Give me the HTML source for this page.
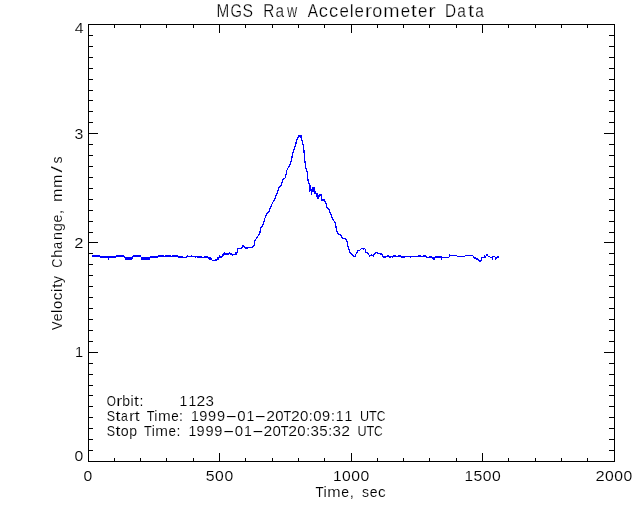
<!DOCTYPE html>
<html><head><meta charset="utf-8"><title>MGS Raw Accelerometer Data</title>
<style>
html,body{margin:0;padding:0;background:#fff;}
body{width:640px;height:512px;overflow:hidden;}
svg{display:block;}
text{font-family:"Liberation Sans",sans-serif;fill:#000;white-space:pre;stroke:#fff;stroke-width:0.12px;}
text.ti{stroke-width:0.25px;}
</style></head><body>
<svg width="640" height="512" viewBox="0 0 640 512">
<rect width="640" height="512" fill="#fff"/>
<g fill="#000" shape-rendering="crispEdges">
<rect x="88" y="24" width="527" height="1"/>
<rect x="88" y="461" width="527" height="1"/>
<rect x="88" y="24" width="1" height="438"/>
<rect x="614" y="24" width="1" height="438"/>
<rect x="114" y="458" width="1" height="4"/>
<rect x="114" y="24" width="1" height="4"/>
<rect x="140" y="458" width="1" height="4"/>
<rect x="140" y="24" width="1" height="4"/>
<rect x="166" y="458" width="1" height="4"/>
<rect x="166" y="24" width="1" height="4"/>
<rect x="193" y="458" width="1" height="4"/>
<rect x="193" y="24" width="1" height="4"/>
<rect x="219" y="453" width="1" height="9"/>
<rect x="219" y="24" width="1" height="9"/>
<rect x="245" y="458" width="1" height="4"/>
<rect x="245" y="24" width="1" height="4"/>
<rect x="272" y="458" width="1" height="4"/>
<rect x="272" y="24" width="1" height="4"/>
<rect x="298" y="458" width="1" height="4"/>
<rect x="298" y="24" width="1" height="4"/>
<rect x="324" y="458" width="1" height="4"/>
<rect x="324" y="24" width="1" height="4"/>
<rect x="351" y="453" width="1" height="9"/>
<rect x="351" y="24" width="1" height="9"/>
<rect x="377" y="458" width="1" height="4"/>
<rect x="377" y="24" width="1" height="4"/>
<rect x="403" y="458" width="1" height="4"/>
<rect x="403" y="24" width="1" height="4"/>
<rect x="429" y="458" width="1" height="4"/>
<rect x="429" y="24" width="1" height="4"/>
<rect x="456" y="458" width="1" height="4"/>
<rect x="456" y="24" width="1" height="4"/>
<rect x="482" y="453" width="1" height="9"/>
<rect x="482" y="24" width="1" height="9"/>
<rect x="508" y="458" width="1" height="4"/>
<rect x="508" y="24" width="1" height="4"/>
<rect x="535" y="458" width="1" height="4"/>
<rect x="535" y="24" width="1" height="4"/>
<rect x="561" y="458" width="1" height="4"/>
<rect x="561" y="24" width="1" height="4"/>
<rect x="587" y="458" width="1" height="4"/>
<rect x="587" y="24" width="1" height="4"/>
<rect x="88" y="450" width="5" height="1"/>
<rect x="609" y="450" width="6" height="1"/>
<rect x="88" y="439" width="5" height="1"/>
<rect x="609" y="439" width="6" height="1"/>
<rect x="88" y="428" width="5" height="1"/>
<rect x="609" y="428" width="6" height="1"/>
<rect x="88" y="417" width="5" height="1"/>
<rect x="609" y="417" width="6" height="1"/>
<rect x="88" y="406" width="5" height="1"/>
<rect x="609" y="406" width="6" height="1"/>
<rect x="88" y="395" width="5" height="1"/>
<rect x="609" y="395" width="6" height="1"/>
<rect x="88" y="385" width="5" height="1"/>
<rect x="609" y="385" width="6" height="1"/>
<rect x="88" y="374" width="5" height="1"/>
<rect x="609" y="374" width="6" height="1"/>
<rect x="88" y="363" width="5" height="1"/>
<rect x="609" y="363" width="6" height="1"/>
<rect x="88" y="352" width="10" height="1"/>
<rect x="604" y="352" width="11" height="1"/>
<rect x="88" y="341" width="5" height="1"/>
<rect x="609" y="341" width="6" height="1"/>
<rect x="88" y="330" width="5" height="1"/>
<rect x="609" y="330" width="6" height="1"/>
<rect x="88" y="319" width="5" height="1"/>
<rect x="609" y="319" width="6" height="1"/>
<rect x="88" y="308" width="5" height="1"/>
<rect x="609" y="308" width="6" height="1"/>
<rect x="88" y="297" width="5" height="1"/>
<rect x="609" y="297" width="6" height="1"/>
<rect x="88" y="286" width="5" height="1"/>
<rect x="609" y="286" width="6" height="1"/>
<rect x="88" y="275" width="5" height="1"/>
<rect x="609" y="275" width="6" height="1"/>
<rect x="88" y="264" width="5" height="1"/>
<rect x="609" y="264" width="6" height="1"/>
<rect x="88" y="253" width="5" height="1"/>
<rect x="609" y="253" width="6" height="1"/>
<rect x="88" y="242" width="10" height="1"/>
<rect x="604" y="242" width="11" height="1"/>
<rect x="88" y="232" width="5" height="1"/>
<rect x="609" y="232" width="6" height="1"/>
<rect x="88" y="221" width="5" height="1"/>
<rect x="609" y="221" width="6" height="1"/>
<rect x="88" y="210" width="5" height="1"/>
<rect x="609" y="210" width="6" height="1"/>
<rect x="88" y="199" width="5" height="1"/>
<rect x="609" y="199" width="6" height="1"/>
<rect x="88" y="188" width="5" height="1"/>
<rect x="609" y="188" width="6" height="1"/>
<rect x="88" y="177" width="5" height="1"/>
<rect x="609" y="177" width="6" height="1"/>
<rect x="88" y="166" width="5" height="1"/>
<rect x="609" y="166" width="6" height="1"/>
<rect x="88" y="155" width="5" height="1"/>
<rect x="609" y="155" width="6" height="1"/>
<rect x="88" y="144" width="5" height="1"/>
<rect x="609" y="144" width="6" height="1"/>
<rect x="88" y="133" width="10" height="1"/>
<rect x="604" y="133" width="11" height="1"/>
<rect x="88" y="122" width="5" height="1"/>
<rect x="609" y="122" width="6" height="1"/>
<rect x="88" y="111" width="5" height="1"/>
<rect x="609" y="111" width="6" height="1"/>
<rect x="88" y="100" width="5" height="1"/>
<rect x="609" y="100" width="6" height="1"/>
<rect x="88" y="90" width="5" height="1"/>
<rect x="609" y="90" width="6" height="1"/>
<rect x="88" y="79" width="5" height="1"/>
<rect x="609" y="79" width="6" height="1"/>
<rect x="88" y="68" width="5" height="1"/>
<rect x="609" y="68" width="6" height="1"/>
<rect x="88" y="57" width="5" height="1"/>
<rect x="609" y="57" width="6" height="1"/>
<rect x="88" y="46" width="5" height="1"/>
<rect x="609" y="46" width="6" height="1"/>
<rect x="88" y="35" width="5" height="1"/>
<rect x="609" y="35" width="6" height="1"/>
</g>
<g fill="#0000ff" shape-rendering="crispEdges"><rect x="92" y="255" width="8" height="2"/><rect x="100" y="256" width="8" height="2"/><rect x="108" y="256" width="1" height="4"/><rect x="109" y="256" width="7" height="2"/><rect x="116" y="255" width="8" height="2"/><rect x="124" y="256" width="1" height="2"/><rect x="125" y="257" width="7" height="3"/><rect x="132" y="256" width="1" height="3"/><rect x="133" y="255" width="8" height="2"/><rect x="141" y="257" width="9" height="3"/><rect x="150" y="256" width="8" height="2"/><rect x="158" y="255" width="6" height="2"/><rect x="164" y="256" width="1" height="1"/><rect x="165" y="255" width="6" height="2"/><rect x="171" y="256" width="1" height="1"/><rect x="172" y="255" width="6" height="2"/><rect x="178" y="256" width="5" height="2"/><rect x="183" y="257" width="3" height="1"/><rect x="186" y="256" width="1" height="2"/><rect x="187" y="255" width="1" height="2"/><rect x="188" y="256" width="3" height="1"/><rect x="191" y="255" width="1" height="2"/><rect x="192" y="256" width="3" height="1"/><rect x="195" y="256" width="1" height="2"/><rect x="196" y="256" width="1" height="1"/><rect x="197" y="256" width="5" height="2"/><rect x="202" y="257" width="2" height="1"/><rect x="204" y="256" width="4" height="2"/><rect x="208" y="257" width="1" height="2"/><rect x="209" y="257" width="2" height="3"/><rect x="211" y="258" width="1" height="2"/><rect x="212" y="260" width="3" height="1"/><rect x="215" y="259" width="2" height="2"/><rect x="217" y="257" width="2" height="3"/><rect x="219" y="255" width="1" height="3"/><rect x="220" y="256" width="2" height="2"/><rect x="222" y="254" width="1" height="3"/><rect x="223" y="253" width="1" height="3"/><rect x="224" y="252" width="1" height="3"/><rect x="225" y="253" width="4" height="2"/><rect x="229" y="252" width="1" height="2"/><rect x="230" y="253" width="2" height="2"/><rect x="232" y="254" width="1" height="2"/><rect x="233" y="254" width="2" height="1"/><rect x="235" y="252" width="2" height="3"/><rect x="237" y="248" width="1" height="5"/><rect x="238" y="248" width="3" height="1"/><rect x="241" y="247" width="1" height="2"/><rect x="242" y="245" width="1" height="3"/><rect x="243" y="245" width="1" height="2"/><rect x="380" y="253" width="2" height="2"/><rect x="382" y="254" width="1" height="3"/><rect x="383" y="256" width="3" height="2"/><rect x="386" y="256" width="1" height="1"/><rect x="387" y="255" width="2" height="2"/><rect x="389" y="256" width="2" height="2"/><rect x="391" y="256" width="1" height="1"/><rect x="392" y="256" width="1" height="2"/><rect x="393" y="255" width="3" height="2"/><rect x="396" y="256" width="2" height="1"/><rect x="398" y="255" width="3" height="2"/><rect x="401" y="256" width="4" height="2"/><rect x="405" y="256" width="5" height="1"/><rect x="410" y="256" width="1" height="2"/><rect x="411" y="256" width="7" height="1"/><rect x="418" y="255" width="3" height="2"/><rect x="421" y="256" width="2" height="1"/><rect x="423" y="255" width="3" height="2"/><rect x="426" y="256" width="1" height="2"/><rect x="427" y="257" width="2" height="1"/><rect x="429" y="256" width="3" height="2"/><rect x="432" y="257" width="1" height="2"/><rect x="433" y="257" width="2" height="3"/><rect x="435" y="256" width="6" height="2"/><rect x="441" y="256" width="1" height="4"/><rect x="442" y="257" width="7" height="1"/><rect x="449" y="254" width="1" height="3"/><rect x="450" y="255" width="7" height="1"/><rect x="457" y="256" width="8" height="1"/><rect x="465" y="255" width="8" height="1"/><rect x="473" y="256" width="1" height="2"/><rect x="474" y="257" width="2" height="2"/><rect x="476" y="258" width="2" height="2"/><rect x="478" y="259" width="1" height="2"/><rect x="479" y="260" width="2" height="2"/><rect x="481" y="257" width="1" height="4"/><rect x="482" y="257" width="2" height="1"/><rect x="484" y="255" width="1" height="3"/><rect x="485" y="256" width="1" height="2"/><rect x="486" y="254" width="2" height="2"/><rect x="488" y="256" width="2" height="1"/><rect x="490" y="257" width="2" height="1"/><rect x="492" y="256" width="1" height="4"/><rect x="493" y="256" width="2" height="1"/><rect x="495" y="257" width="1" height="3"/><rect x="496" y="257" width="1" height="2"/><rect x="497" y="256" width="2" height="2"/><rect x="309" y="184" width="1" height="8"/><rect x="310" y="185" width="1" height="5"/><rect x="311" y="190" width="1" height="5"/><rect x="312" y="187" width="3" height="5"/><rect x="314" y="191" width="2" height="3"/><rect x="316" y="193" width="2" height="4"/><rect x="317" y="195" width="2" height="4"/><rect x="319" y="194" width="3" height="1"/><rect x="321" y="195" width="1" height="6"/><rect x="322" y="199" width="3" height="2"/><rect x="299" y="135" width="3" height="2"/><rect x="300" y="137" width="2" height="1"/></g>
<polyline shape-rendering="crispEdges" fill="none" stroke="#0000ff" stroke-width="1.25" stroke-linejoin="round" stroke-linecap="butt" points="243.6,245.6 244.5,246.8 245,247.9 248,247.9 252,247.25 254,246 254.5,241.6 256,239 258.5,235.4 260,232.25 260.5,228 262.5,226 264,221.6 265,218 266.5,214 269,211.6 270.5,207.25 272.5,203 274,200.4 276.4,195 278.75,188.1 281.25,185 283.1,179.4 285.6,177.5 286.5,171.25 287.5,168.75 290.6,163.75 291.9,157.5 293.1,152.5 294.75,147.5 296.5,141.25 298.1,136.9 299.4,135.25 301.5,135.25 301.9,140 303.1,145 304,151.25 304.75,160 305.6,167.5 307.25,172.5 307.75,178 308.1,181 309.6,184.75 309.75,191.6 310.6,186 311.5,194.75 312.5,187.9 314.4,188.5 315,192.25 316.9,194 318.5,198.5 319.4,194.75 321,194.75 321.9,199.75 324.4,200.75 326,202.9 326.5,206.6 329,209.75 330.6,213.5 332.5,219 334,221 335.6,223.5 336.25,228.5 337.75,233.5 340.6,234.75 342.5,238.5 345.6,238.5 346.5,240.3 347.4,243.1 347.6,245.6 348.5,247.8 349.3,250.3 349.9,252.2 351.5,253.75 353.1,255.9 355.25,256.4 355.6,254.7 356.8,252.8 357.75,250.6 359.6,250.3 361.2,248.9 362.75,248.75 363.7,249.25 364.6,248.4 365.6,249.7 365.75,252.2 367.1,253 368.4,253.4 369,255 369.6,256.4 370.6,255.3 371.5,254.7 372.4,255.6 373.4,256.4 374.3,254.1 375.25,253.25 376.8,252.5 378.4,253.6 380.5,253.9"/>
<g>
<text class="ti" y="17" font-size="17.5"><tspan x="216.62" textLength="12.74" lengthAdjust="spacingAndGlyphs">M</tspan><tspan x="230.41" textLength="11.50" lengthAdjust="spacingAndGlyphs">G</tspan><tspan x="242.55" textLength="10.52" lengthAdjust="spacingAndGlyphs">S</tspan> <tspan x="263.36" textLength="11.04" lengthAdjust="spacingAndGlyphs">R</tspan><tspan x="275.50" textLength="8.58" lengthAdjust="spacingAndGlyphs">a</tspan><tspan x="287.12" textLength="10.18" lengthAdjust="spacingAndGlyphs">w</tspan> <tspan x="307.86" textLength="10.29" lengthAdjust="spacingAndGlyphs">A</tspan><tspan x="318.65" textLength="9.19" lengthAdjust="spacingAndGlyphs">c</tspan><tspan x="329.04" textLength="9.19" lengthAdjust="spacingAndGlyphs">c</tspan><tspan x="339.49" textLength="9.39" lengthAdjust="spacingAndGlyphs">e</tspan><tspan x="349.72">l</tspan><tspan x="354.49" textLength="9.39" lengthAdjust="spacingAndGlyphs">e</tspan><tspan x="364.68" textLength="7.48" lengthAdjust="spacingAndGlyphs">r</tspan><tspan x="372.34" textLength="10.01" lengthAdjust="spacingAndGlyphs">o</tspan><tspan x="383.33" textLength="16.28" lengthAdjust="spacingAndGlyphs">m</tspan><tspan x="400.65" textLength="9.39" lengthAdjust="spacingAndGlyphs">e</tspan><tspan x="410.84" textLength="6.11" lengthAdjust="spacingAndGlyphs">t</tspan><tspan x="417.96" textLength="9.39" lengthAdjust="spacingAndGlyphs">e</tspan><tspan x="428.15" textLength="7.48" lengthAdjust="spacingAndGlyphs">r</tspan> <tspan x="445.11" textLength="11.07" lengthAdjust="spacingAndGlyphs">D</tspan><tspan x="457.26" textLength="8.58" lengthAdjust="spacingAndGlyphs">a</tspan><tspan x="467.96" textLength="6.11" lengthAdjust="spacingAndGlyphs">t</tspan><tspan x="475.14" textLength="8.58" lengthAdjust="spacingAndGlyphs">a</tspan></text>
<text y="481" font-size="15.4"><tspan x="83.62" textLength="8.75" lengthAdjust="spacingAndGlyphs">0</tspan></text>
<text y="481" font-size="15.4"><tspan x="205.78" textLength="8.83" lengthAdjust="spacingAndGlyphs">5</tspan><tspan x="215.12" textLength="8.75" lengthAdjust="spacingAndGlyphs">0</tspan><tspan x="224.44" textLength="8.75" lengthAdjust="spacingAndGlyphs">0</tspan></text>
<text y="481" font-size="15.4"><tspan x="332.97">1</tspan><tspan x="341.96" textLength="8.75" lengthAdjust="spacingAndGlyphs">0</tspan><tspan x="351.28" textLength="8.75" lengthAdjust="spacingAndGlyphs">0</tspan><tspan x="360.60" textLength="8.75" lengthAdjust="spacingAndGlyphs">0</tspan></text>
<text y="481" font-size="15.4"><tspan x="464.47">1</tspan><tspan x="473.44" textLength="8.83" lengthAdjust="spacingAndGlyphs">5</tspan><tspan x="482.78" textLength="8.75" lengthAdjust="spacingAndGlyphs">0</tspan><tspan x="492.10" textLength="8.75" lengthAdjust="spacingAndGlyphs">0</tspan></text>
<text y="481" font-size="15.4"><tspan x="595.43" textLength="9.19" lengthAdjust="spacingAndGlyphs">2</tspan><tspan x="604.96" textLength="8.75" lengthAdjust="spacingAndGlyphs">0</tspan><tspan x="614.28" textLength="8.75" lengthAdjust="spacingAndGlyphs">0</tspan><tspan x="623.60" textLength="8.75" lengthAdjust="spacingAndGlyphs">0</tspan></text>
<text y="461.2" font-size="14.6"><tspan x="74.56" textLength="8.75" lengthAdjust="spacingAndGlyphs">0</tspan></text>
<text y="357" font-size="14.6"><tspan x="75.07">1</tspan></text>
<text y="248" font-size="14.6"><tspan x="74.35" textLength="9.19" lengthAdjust="spacingAndGlyphs">2</tspan></text>
<text y="138.5" font-size="14.6"><tspan x="74.57" textLength="8.83" lengthAdjust="spacingAndGlyphs">3</tspan></text>
<text y="33.0" font-size="14.6"><tspan x="74.81" textLength="8.82" lengthAdjust="spacingAndGlyphs">4</tspan></text>
<text y="496.7" font-size="14.6"><tspan x="315.48" textLength="8.13" lengthAdjust="spacingAndGlyphs">T</tspan><tspan x="323.52">i</tspan><tspan x="327.30" textLength="13.38" lengthAdjust="spacingAndGlyphs">m</tspan><tspan x="341.28" textLength="7.81" lengthAdjust="spacingAndGlyphs">e</tspan><tspan x="349.67">,</tspan> <tspan x="361.99" textLength="7.02" lengthAdjust="spacingAndGlyphs">s</tspan><tspan x="369.71" textLength="7.81" lengthAdjust="spacingAndGlyphs">e</tspan><tspan x="378.04" textLength="7.64" lengthAdjust="spacingAndGlyphs">c</tspan></text>
<text transform="translate(61.5,243) rotate(-90)" y="0" font-size="14.6"><tspan x="-87.00" textLength="8.57" lengthAdjust="spacingAndGlyphs">V</tspan><tspan x="-78.22" textLength="7.81" lengthAdjust="spacingAndGlyphs">e</tspan><tspan x="-69.89">l</tspan><tspan x="-66.13" textLength="8.31" lengthAdjust="spacingAndGlyphs">o</tspan><tspan x="-57.30" textLength="7.64" lengthAdjust="spacingAndGlyphs">c</tspan><tspan x="-48.92">i</tspan><tspan x="-45.28" textLength="5.14" lengthAdjust="spacingAndGlyphs">t</tspan><tspan x="-39.91" textLength="7.12" lengthAdjust="spacingAndGlyphs">y</tspan> <tspan x="-24.67" textLength="9.11" lengthAdjust="spacingAndGlyphs">C</tspan><tspan x="-14.79" textLength="8.08" lengthAdjust="spacingAndGlyphs">h</tspan><tspan x="-5.94" textLength="7.14" lengthAdjust="spacingAndGlyphs">a</tspan><tspan x="2.97" textLength="8.02" lengthAdjust="spacingAndGlyphs">n</tspan><tspan x="11.70">g</tspan><tspan x="20.57" textLength="7.81" lengthAdjust="spacingAndGlyphs">e</tspan><tspan x="28.96">,</tspan> <tspan x="41.07" textLength="13.38" lengthAdjust="spacingAndGlyphs">m</tspan><tspan x="55.05" textLength="13.38" lengthAdjust="spacingAndGlyphs">m</tspan><tspan x="70.62" textLength="6.49" lengthAdjust="spacingAndGlyphs">/</tspan><tspan x="79.49" textLength="7.02" lengthAdjust="spacingAndGlyphs">s</tspan></text>
<text y="406" font-size="14.0"><tspan x="106.76" textLength="9.18" lengthAdjust="spacingAndGlyphs">O</tspan><tspan x="116.27" textLength="6.03" lengthAdjust="spacingAndGlyphs">r</tspan><tspan x="122.30">b</tspan><tspan x="130.54">i</tspan><tspan x="133.97" textLength="4.93" lengthAdjust="spacingAndGlyphs">t</tspan><tspan x="139.41">:</tspan>     <tspan x="179.56">1</tspan><tspan x="188.39">1</tspan><tspan x="196.54" textLength="8.76" lengthAdjust="spacingAndGlyphs">2</tspan><tspan x="205.58" textLength="8.42" lengthAdjust="spacingAndGlyphs">3</tspan></text>
<text y="421" font-size="14.0"><tspan x="106.76" textLength="8.32" lengthAdjust="spacingAndGlyphs">S</tspan><tspan x="115.44" textLength="4.93" lengthAdjust="spacingAndGlyphs">t</tspan><tspan x="120.92" textLength="6.81" lengthAdjust="spacingAndGlyphs">a</tspan><tspan x="129.06" textLength="6.03" lengthAdjust="spacingAndGlyphs">r</tspan><tspan x="134.85" textLength="4.93" lengthAdjust="spacingAndGlyphs">t</tspan> <tspan x="146.75" textLength="7.75" lengthAdjust="spacingAndGlyphs">T</tspan><tspan x="154.36">i</tspan><tspan x="157.93" textLength="12.73" lengthAdjust="spacingAndGlyphs">m</tspan><tspan x="171.17" textLength="7.46" lengthAdjust="spacingAndGlyphs">e</tspan><tspan x="179.12">:</tspan> <tspan x="191.03">1</tspan><tspan x="199.29" textLength="8.11" lengthAdjust="spacingAndGlyphs">9</tspan><tspan x="208.12" textLength="8.11" lengthAdjust="spacingAndGlyphs">9</tspan><tspan x="216.94" textLength="8.11" lengthAdjust="spacingAndGlyphs">9</tspan><tspan x="225.26" textLength="12.20" lengthAdjust="spacingAndGlyphs">-</tspan><tspan x="237.33" textLength="8.35" lengthAdjust="spacingAndGlyphs">0</tspan><tspan x="246.62">1</tspan><tspan x="254.38" textLength="12.20" lengthAdjust="spacingAndGlyphs">-</tspan><tspan x="266.25" textLength="8.76" lengthAdjust="spacingAndGlyphs">2</tspan><tspan x="275.28" textLength="8.35" lengthAdjust="spacingAndGlyphs">0</tspan><tspan x="283.52" textLength="7.75" lengthAdjust="spacingAndGlyphs">T</tspan><tspan x="290.95" textLength="8.76" lengthAdjust="spacingAndGlyphs">2</tspan><tspan x="299.98" textLength="8.35" lengthAdjust="spacingAndGlyphs">0</tspan><tspan x="308.83">:</tspan><tspan x="313.22" textLength="8.35" lengthAdjust="spacingAndGlyphs">0</tspan><tspan x="321.95" textLength="8.11" lengthAdjust="spacingAndGlyphs">9</tspan><tspan x="330.89">:</tspan><tspan x="335.75">1</tspan><tspan x="344.57">1</tspan> <tspan x="360.04" textLength="9.13" lengthAdjust="spacingAndGlyphs">U</tspan><tspan x="369.11" textLength="7.75" lengthAdjust="spacingAndGlyphs">T</tspan><tspan x="376.73" textLength="8.69" lengthAdjust="spacingAndGlyphs">C</tspan></text>
<text y="436" font-size="14.0"><tspan x="106.76" textLength="8.32" lengthAdjust="spacingAndGlyphs">S</tspan><tspan x="115.44" textLength="4.93" lengthAdjust="spacingAndGlyphs">t</tspan><tspan x="120.84" textLength="7.93" lengthAdjust="spacingAndGlyphs">o</tspan><tspan x="129.36">p</tspan> <tspan x="144.10" textLength="7.75" lengthAdjust="spacingAndGlyphs">T</tspan><tspan x="151.72">i</tspan><tspan x="155.28" textLength="12.73" lengthAdjust="spacingAndGlyphs">m</tspan><tspan x="168.52" textLength="7.46" lengthAdjust="spacingAndGlyphs">e</tspan><tspan x="176.47">:</tspan> <tspan x="188.39">1</tspan><tspan x="196.64" textLength="8.11" lengthAdjust="spacingAndGlyphs">9</tspan><tspan x="205.47" textLength="8.11" lengthAdjust="spacingAndGlyphs">9</tspan><tspan x="214.29" textLength="8.11" lengthAdjust="spacingAndGlyphs">9</tspan><tspan x="222.61" textLength="12.20" lengthAdjust="spacingAndGlyphs">-</tspan><tspan x="234.69" textLength="8.35" lengthAdjust="spacingAndGlyphs">0</tspan><tspan x="243.98">1</tspan><tspan x="251.73" textLength="12.20" lengthAdjust="spacingAndGlyphs">-</tspan><tspan x="263.60" textLength="8.76" lengthAdjust="spacingAndGlyphs">2</tspan><tspan x="272.63" textLength="8.35" lengthAdjust="spacingAndGlyphs">0</tspan><tspan x="280.87" textLength="7.75" lengthAdjust="spacingAndGlyphs">T</tspan><tspan x="288.31" textLength="8.76" lengthAdjust="spacingAndGlyphs">2</tspan><tspan x="297.34" textLength="8.35" lengthAdjust="spacingAndGlyphs">0</tspan><tspan x="306.18">:</tspan><tspan x="310.58" textLength="8.42" lengthAdjust="spacingAndGlyphs">3</tspan><tspan x="319.38" textLength="8.42" lengthAdjust="spacingAndGlyphs">5</tspan><tspan x="328.24">:</tspan><tspan x="332.64" textLength="8.42" lengthAdjust="spacingAndGlyphs">3</tspan><tspan x="341.25" textLength="8.76" lengthAdjust="spacingAndGlyphs">2</tspan> <tspan x="357.39" textLength="9.13" lengthAdjust="spacingAndGlyphs">U</tspan><tspan x="366.46" textLength="7.75" lengthAdjust="spacingAndGlyphs">T</tspan><tspan x="374.08" textLength="8.69" lengthAdjust="spacingAndGlyphs">C</tspan></text>
</g>
</svg>
</body></html>
